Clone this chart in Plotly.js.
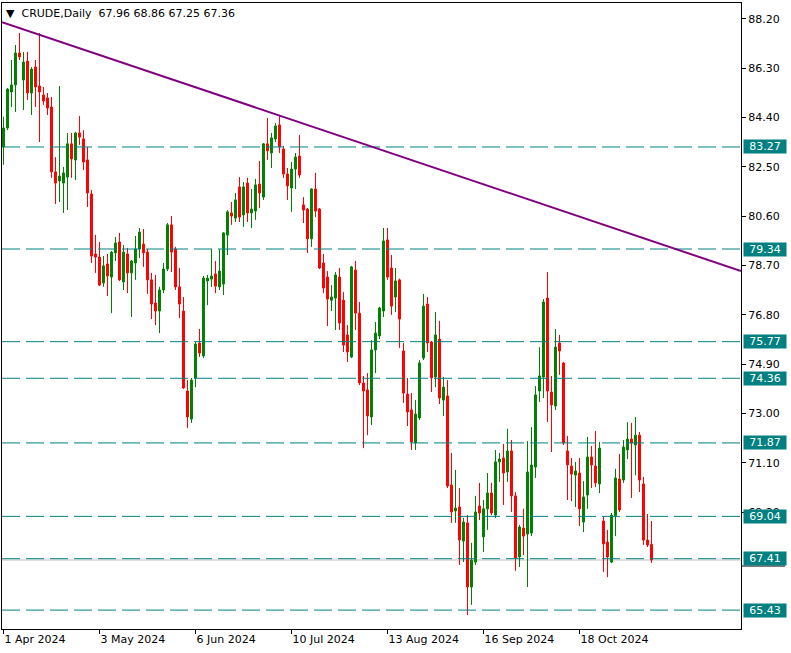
<!DOCTYPE html>
<html><head><meta charset="utf-8">
<script src="https://cdn.plot.ly/plotly-3.0.1.min.js"></script>
<style>html,body{margin:0;padding:0;background:#fff;}#chart{width:791px;height:653px;}</style>
</head><body><div id="chart"></div>
<script>
const dates = [
"2024-04-01","2024-04-02","2024-04-03","2024-04-04","2024-04-05","2024-04-08","2024-04-09","2024-04-10","2024-04-11","2024-04-12",
"2024-04-15","2024-04-16","2024-04-17","2024-04-18","2024-04-19","2024-04-22","2024-04-23","2024-04-24","2024-04-25","2024-04-26",
"2024-04-29","2024-04-30","2024-05-01","2024-05-02","2024-05-03","2024-05-06","2024-05-07","2024-05-08","2024-05-09","2024-05-10",
"2024-05-13","2024-05-14","2024-05-15","2024-05-16","2024-05-17","2024-05-20","2024-05-21","2024-05-22","2024-05-23","2024-05-24",
"2024-05-27","2024-05-28","2024-05-29","2024-05-30","2024-05-31","2024-06-03","2024-06-04","2024-06-05","2024-06-06","2024-06-07",
"2024-06-10","2024-06-11","2024-06-12","2024-06-13","2024-06-14","2024-06-17","2024-06-18","2024-06-19","2024-06-20","2024-06-21",
"2024-06-24","2024-06-25","2024-06-26","2024-06-27","2024-06-28","2024-07-01","2024-07-02","2024-07-03","2024-07-04","2024-07-05",
"2024-07-08","2024-07-09","2024-07-10","2024-07-11","2024-07-12","2024-07-15","2024-07-16","2024-07-17","2024-07-18","2024-07-19",
"2024-07-22","2024-07-23","2024-07-24","2024-07-25","2024-07-26","2024-07-29","2024-07-30","2024-07-31","2024-08-01","2024-08-02",
"2024-08-05","2024-08-06","2024-08-07","2024-08-08","2024-08-09","2024-08-12","2024-08-13","2024-08-14","2024-08-15","2024-08-16",
"2024-08-19","2024-08-20","2024-08-21","2024-08-22","2024-08-23","2024-08-26","2024-08-27","2024-08-28","2024-08-29","2024-08-30",
"2024-09-02","2024-09-03","2024-09-04","2024-09-05","2024-09-06","2024-09-09","2024-09-10","2024-09-11","2024-09-12","2024-09-13",
"2024-09-16","2024-09-17","2024-09-18","2024-09-19","2024-09-20","2024-09-23","2024-09-24","2024-09-25","2024-09-26","2024-09-27",
"2024-09-30","2024-10-01","2024-10-02","2024-10-03","2024-10-04","2024-10-07","2024-10-08","2024-10-09","2024-10-10","2024-10-11",
"2024-10-14","2024-10-15","2024-10-16","2024-10-17","2024-10-18","2024-10-21","2024-10-22","2024-10-23","2024-10-24","2024-10-25",
"2024-10-28","2024-10-29","2024-10-30","2024-10-31","2024-11-01","2024-11-04","2024-11-05","2024-11-06","2024-11-07","2024-11-08",
"2024-11-11","2024-11-12","2024-11-13"];

const open = [
83.27,84.00,85.39,85.66,86.89,85.85,86.58,85.35,86.35,85.62,
85.27,85.16,84.81,82.31,81.96,81.88,82.11,83.39,82.77,83.81,
83.58,82.77,81.46,79.15,79.03,78.03,78.76,78.26,79.19,79.61,
78.07,79.15,78.42,78.80,79.34,79.53,79.22,78.15,77.26,76.95,
77.76,78.57,80.27,79.34,77.88,76.95,73.87,72.79,74.37,75.72,
75.22,78.11,78.18,78.38,77.88,77.99,79.88,80.73,80.53,81.73,
80.65,81.88,80.73,80.80,81.84,81.34,83.39,83.04,83.58,84.12,
83.19,82.23,81.69,82.42,82.92,81.04,80.88,79.73,81.65,80.88,
78.80,78.26,77.37,77.45,78.26,77.37,76.03,75.18,78.53,76.87,
74.18,73.91,72.87,75.45,75.99,76.95,79.69,78.61,77.49,78.15,
75.41,73.75,73.14,71.87,72.83,75.14,77.22,75.76,74.41,75.87,
73.52,73.68,70.25,69.25,69.40,68.09,68.79,66.32,67.28,69.44,
68.25,69.33,69.94,69.09,71.14,71.29,70.75,71.56,69.83,67.48,
68.59,68.36,68.40,70.94,73.87,74.41,77.45,73.83,73.29,75.72,
74.95,71.56,70.98,70.63,70.71,68.82,69.86,71.33,70.98,70.29,
68.86,68.05,67.28,69.06,70.48,70.44,71.60,72.02,71.79,72.17,
70.29,68.13,67.96];

const high = [
84.43,85.54,86.62,87.20,87.66,86.93,86.93,86.35,86.62,87.66,
85.58,85.35,85.20,82.88,85.62,82.50,83.81,83.81,83.85,84.46,
83.92,83.27,81.61,79.88,79.61,79.07,79.15,79.26,79.80,79.96,
79.49,79.38,78.92,79.84,80.15,80.11,79.34,78.42,78.34,77.88,
78.80,80.34,80.61,79.42,78.61,77.49,74.29,74.37,75.76,76.26,
78.30,78.34,79.34,78.88,79.34,79.99,80.84,81.15,81.50,82.11,
81.92,82.08,81.65,82.04,82.73,83.42,84.39,83.81,84.19,84.50,
83.31,82.46,82.69,83.04,83.73,81.34,80.92,81.68,82.27,80.92,
79.15,78.49,77.95,78.45,78.61,77.68,76.41,78.69,78.88,77.30,
74.45,74.56,75.83,76.53,77.11,80.15,80.15,79.11,78.61,78.20,
75.72,74.37,73.79,73.52,75.06,77.61,77.49,75.80,76.91,76.57,
74.41,74.29,71.48,70.83,70.13,68.98,69.09,68.02,69.83,70.33,
69.67,70.71,70.33,71.60,71.48,71.83,72.41,71.98,69.98,68.71,
69.33,71.94,72.48,74.06,75.56,77.41,78.45,74.45,76.26,76.03,
74.99,72.14,71.29,71.14,71.29,70.40,72.10,71.75,72.33,71.91,
69.02,68.52,69.17,70.87,71.44,71.98,72.67,72.64,72.87,72.29,
70.56,69.13,68.86];

const low = [
82.58,83.92,84.81,84.62,86.62,84.69,85.08,84.50,84.81,83.46,
84.89,84.50,82.08,81.07,81.15,80.73,80.84,82.08,82.00,83.35,
82.38,80.96,78.80,78.42,77.91,77.88,77.53,76.87,78.88,78.11,
77.76,77.64,76.72,78.15,78.99,78.65,77.61,76.64,76.41,76.10,
77.64,78.49,78.45,77.76,76.68,73.95,72.44,72.64,74.02,75.18,
75.14,77.18,77.88,77.64,77.76,77.57,79.11,80.27,80.38,80.38,
80.19,80.38,80.15,80.46,80.92,81.23,82.77,82.46,83.46,83.04,
82.08,81.23,80.77,81.65,82.08,80.34,79.19,79.42,80.57,78.57,
77.64,76.37,76.95,76.22,76.22,75.37,74.99,75.14,76.22,74.10,
71.67,72.17,72.56,74.56,75.87,76.72,78.15,76.80,76.91,75.53,
73.41,72.52,71.60,71.60,72.75,75.06,75.37,73.83,74.02,73.37,
72.91,70.13,68.79,68.79,67.17,67.28,65.24,65.63,67.17,68.90,
67.67,68.52,69.09,68.98,70.37,69.48,70.37,69.21,66.94,67.09,
67.55,66.32,68.28,70.52,73.45,73.60,72.68,71.52,73.14,74.49,
71.79,69.67,69.63,69.40,68.67,68.44,69.33,70.13,70.17,69.94,
66.90,66.70,67.24,68.28,69.21,70.33,71.25,69.75,70.63,69.98,
67.94,67.86,67.25];

const close = [
84.00,85.50,85.66,86.89,86.74,86.54,85.35,86.27,85.58,85.39,
85.04,84.77,82.31,81.88,82.15,82.27,83.39,82.81,83.81,83.65,
82.69,81.50,79.07,79.03,77.95,78.69,78.30,79.22,79.57,78.15,
79.22,78.42,78.88,79.34,79.99,79.19,78.15,77.22,76.95,77.76,
78.57,80.27,79.22,77.88,77.22,73.99,72.87,74.29,75.68,75.33,
78.22,78.22,78.30,77.91,78.49,79.96,80.77,80.61,81.23,80.57,
81.73,80.73,80.88,81.81,81.50,83.39,83.12,83.62,84.08,83.27,
82.23,81.77,82.42,82.88,82.19,80.84,79.73,81.65,80.80,78.61,
77.84,77.41,77.49,78.34,76.49,75.64,75.37,78.65,76.87,74.18,
73.87,72.91,75.45,76.10,77.07,79.65,78.26,77.14,78.11,76.64,
73.79,73.06,71.91,72.98,74.95,77.14,75.72,74.37,76.03,73.60,
74.02,70.21,69.21,69.36,68.13,68.82,66.32,67.36,69.21,69.17,
69.33,69.94,69.17,71.14,71.25,70.71,71.56,69.83,67.44,68.63,
68.28,70.75,71.02,73.72,74.45,77.30,73.87,73.33,75.56,75.41,
71.87,71.02,70.67,70.79,69.33,69.79,71.33,71.02,70.33,71.67,
67.98,67.48,69.09,70.52,69.29,71.71,72.02,71.87,72.17,70.44,
68.13,67.94,67.36];

const tickDates = ["2024-04-01","2024-05-03","2024-06-06","2024-07-10","2024-08-13","2024-09-16","2024-10-18"];
const tickLabels = ["1 Apr 2024","3 May 2024","6 Jun 2024","10 Jul 2024","13 Aug 2024","16 Sep 2024","18 Oct 2024"];
const priceTicks = [88.20,86.30,84.40,82.50,80.60,78.70,76.80,74.90,73.00,71.10,69.20];
const levels = [83.27,79.34,75.77,74.36,71.87,69.04,67.41,65.43];
const trendline = {x: [-0.375, 184.375], y: [88.08, 78.49]};
const symbol = "CRUDE,Daily";

const FONT = "DejaVu Sans";
const teal = "#008080";
const yRange = [64.702, 88.816];
const xRange = [-0.375, 184.375];

const trace = {
  type: "candlestick",
  x: dates, open: open, high: high, low: low, close: close,
  increasing: {line: {color: "#008000", width: 1}, fillcolor: "#008000"},
  decreasing: {line: {color: "#ff0000", width: 1}, fillcolor: "#ff0000"},
  whiskerwidth: 0,
  hoverinfo: "skip",
  showlegend: false
};

const shapes = [];
const last = close[close.length - 1];
shapes.push({type: "line", layer: "below", xref: "paper", x0: 0, x1: 1, yref: "y", y0: last, y1: last,
  line: {color: "#c0c0c0", width: 1}});
levels.forEach(v => shapes.push({type: "line", xref: "paper", x0: 0, x1: 1, yref: "y", y0: v, y1: v,
  line: {color: teal, width: 1, dash: "18px,6px"}}));
shapes.push({type: "line", xref: "x", yref: "y", x0: trendline.x[0], x1: trendline.x[1],
  y0: trendline.y[0], y1: trendline.y[1], line: {color: "#800080", width: 2}});
shapes.push({type: "line", xref: "paper", yref: "paper", x0: 1, x1: 1 + 44/739, y0: 0.1006, y1: 0.1006,
  line: {color: "#000", width: 1}});

const annotations = levels.map(v => ({
  xref: "paper", x: 1, xanchor: "left", xshift: 2,
  yref: "y", y: v, yanchor: "middle",
  text: v.toFixed(2), showarrow: false,
  bgcolor: teal, font: {family: FONT, size: 11, color: "#fff"},
  width: 42, height: 13, borderpad: 0, align: "center"
}));
annotations.push({
  xref: "paper", x: 0, xanchor: "left", xshift: 3,
  yref: "paper", y: 1, yanchor: "middle", yshift: -10,
  text: "\u25BC\u00a0\u00a0" + symbol + "\u00a0\u00a0" + [open[open.length-1], high[high.length-1], low[low.length-1], close[close.length-1]].map(v => v.toFixed(2)).join("\u00a0"),
  showarrow: false, font: {family: FONT, size: 11, color: "#000"}, borderpad: 0
});

const layout = {
  width: 791, height: 653,
  margin: {l: 2, r: 50, t: 3, b: 24, pad: 0},
  paper_bgcolor: "#fff", plot_bgcolor: "#fff",
  showlegend: false,
  font: {family: FONT, size: 11, color: "#000"},
  xaxis: {
    type: "category", range: xRange, rangeslider: {visible: false},
    tickvals: tickDates, ticktext: tickLabels,
    ticks: "outside", ticklen: 4, tickcolor: "#000", tickwidth: 1,
    ticklabelposition: "outside right",
    showline: true, linecolor: "#000", linewidth: 1, mirror: true,
    showgrid: false, zeroline: false,
    tickfont: {family: FONT, size: 11, color: "#000"}
  },
  yaxis: {
    side: "right", range: yRange,
    tickvals: priceTicks, tickformat: ".2f",
    ticks: "outside", ticklen: 4, tickcolor: "#000", tickwidth: 1,
    showline: true, linecolor: "#000", linewidth: 1, mirror: true,
    showgrid: false, zeroline: false,
    tickfont: {family: FONT, size: 11, color: "#000"}
  },
  shapes: shapes,
  annotations: annotations
};

Plotly.newPlot("chart", [trace], layout, {displayModeBar: false, staticPlot: true});
</script>
</body></html>
